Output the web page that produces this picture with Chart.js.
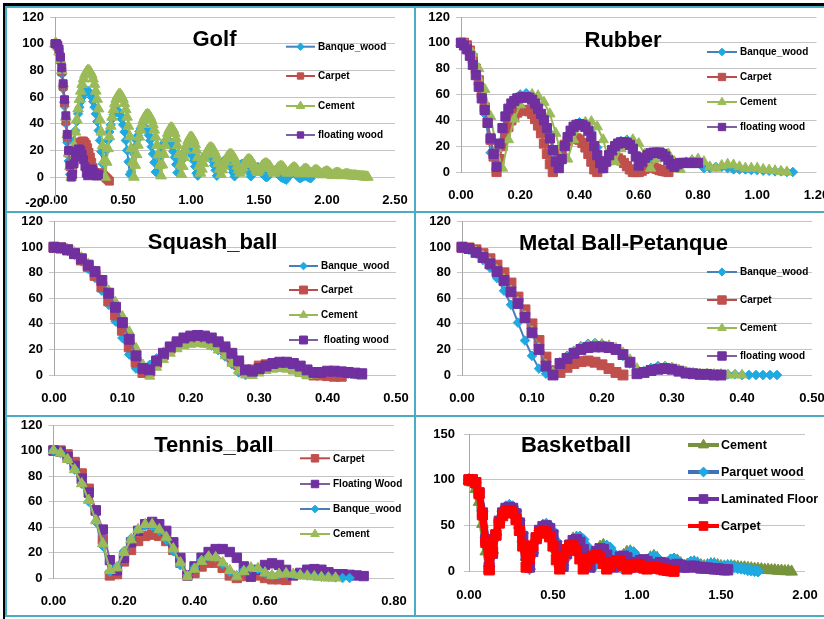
<!DOCTYPE html>
<html>
<head>
<meta charset="utf-8">
<script src="https://cdn.jsdelivr.net/npm/chart.js@4/dist/chart.umd.min.js"></script>
<style>
  html, body { margin: 0; padding: 0; background: #fff; }
  body { width: 824px; height: 619px; position: relative; overflow: hidden; }
  canvas { position: absolute; }
  .rule { position: absolute; z-index: 5; }
</style>
</head>
<body>
<canvas id="golf"   width="406" height="202" style="left:8px;top:9px"></canvas>
<canvas id="rubber" width="408" height="202" style="left:416px;top:9px"></canvas>
<canvas id="squash" width="406" height="202" style="left:8px;top:213px"></canvas>
<canvas id="metal"  width="408" height="202" style="left:416px;top:213px"></canvas>
<canvas id="tennis" width="406" height="198" style="left:8px;top:417px"></canvas>
<canvas id="basket" width="408" height="198" style="left:416px;top:417px"></canvas>

<!-- frame around the six panels -->
<div class="rule" style="left:3px;top:3px;width:821px;height:3px;background:#000"></div>
<div class="rule" style="left:3px;top:3px;width:2px;height:616px;background:#000"></div>
<div class="rule" style="left:5px;top:6px;width:819px;height:2px;background:#4bacc6"></div>
<div class="rule" style="left:5px;top:6px;width:2px;height:611px;background:#4bacc6"></div>
<div class="rule" style="left:414px;top:6px;width:2px;height:611px;background:#4bacc6"></div>
<div class="rule" style="left:5px;top:211px;width:819px;height:2px;background:#4bacc6"></div>
<div class="rule" style="left:5px;top:415px;width:819px;height:2px;background:#4bacc6"></div>
<div class="rule" style="left:5px;top:615px;width:819px;height:2px;background:#4bacc6"></div>

<script>
// ---- Drop height (%) sampled at a fixed time step for every ball / surface ----

// Golf, time step 0.01 s
const golfBanqueWood = [
  100,99,97,92,86,77,66,53,40,26,12,2,
  10,19.1,27.5,34.9,41.6,47.4,52.4,56.6,59.9,62.4,64.1,64.9,64.9,64.1,62.4,59.9,56.6,52.4,47.4,41.6,34.9,27.5,19.1,10,1,
  11.6,20.1,27.5,33.9,39.2,43.5,46.7,48.8,49.9,49.9,48.8,46.7,43.5,39.2,33.9,27.5,20.1,11.6,2,
  3.9,11.1,17.4,22.8,27.5,31.3,34.2,36.3,37.6,38,37.6,36.3,34.2,31.3,27.5,22.8,17.4,11.1,3.9,
  3.4,9.5,14.8,19.2,22.6,25.3,27,27.9,27.9,27,25.3,22.6,19.2,14.8,9.5,3.4,
  2.9,8,12.3,15.8,18.3,20,20.9,20.9,20,18.3,15.8,12.3,8,2.9,
  1,5.2,8.8,11.8,14,15.7,16.7,17,16.7,15.7,14,11.8,8.8,5.2,1,
  3.5,6.5,9,11,12.3,13,13,12.3,11,9,6.5,3.5,0.5,
  3,5.5,7.5,9,9.8,10,9.8,9,7.5,5.5,3,0.5,
  2.5,4.5,6,7,7.5,7.3,6.5,5,3,1,0,0,
  1.5,3,4.2,5,5.2,4.8,4,2.8,1.3,0,-0.5,-1,-1.5,-2,
  -0.5,1,2.2,3,3.2,3,2.2,1,0,-1,
  -0.5,0,0.7,1,0.7,0,-0.5,-1
];
const golfCarpet = [100,100,98,94,88,79,68,56,42,30,18,8,1,6,12,16.5,20,23,25,26.3,27,27,26,24.5,22,18.5,15,11,7,3.5,1,2,3,3.2,3,2,1,0,-1,-2,-3];
const golfCement = [
  100,100,98,94,88,80,70,58,45,32,18,8,0,
  12.3,23.6,33.8,43,51.2,58.4,64.5,69.6,73.7,76.8,78.8,79.9,79.9,78.8,76.8,73.7,69.6,64.5,58.4,51.2,43,33.8,23.6,12.3,0,
  11.2,21.4,30.4,38.2,45,50.6,55.1,58.5,60.7,61.9,61.9,60.7,58.5,55.1,50.6,45,38.2,30.4,21.4,11.2,0,
  8.9,16.9,24,30.1,35.3,39.5,42.8,45.1,46.5,47,46.5,45.1,42.8,39.5,35.3,30.1,24,16.9,8.9,1,
  9.2,17.1,23.7,28.9,32.9,35.5,36.8,36.8,35.5,32.9,28.9,23.7,17.1,9.2,2,
  8,14.7,20.2,24.5,27.6,29.4,30,29.4,27.6,24.5,20.2,14.7,8,3,
  6,10.2,14.1,17.2,19.6,21.1,21.9,21.9,21.1,19.6,17.2,14.1,10.2,6,2,
  5.5,8.3,11.4,13.9,15.6,16.7,17,16.7,15.6,13.9,11.4,8.3,5.5,3,
  5,7,9.5,11,12.3,13,13,12.3,11,9.5,7.5,5,3.5,
  5,6.5,8,9,9.8,10,9.8,9,8,6.5,4.5,3,
  4,5.5,6.8,7.6,8,7.8,7,5.5,4,3,
  3.5,5,6,6.8,7,6.5,5.3,3.8,2.5,
  3.5,4.5,5.5,6,5.8,5,3.8,2.5,
  3,4,4.8,5,4.6,3.8,2.7,1.8,
  2.5,3.3,3.8,4,3.6,2.8,1.8,1.2,
  1.8,2.5,3,3,2.5,1.8,1.2,
  1.2,1.7,2,2,1.7,1.2,1,
  1,1,1,0.8,0.7,0.6,0.5,0.4,0.3,0.2,0.1,0
];
const golfFloatingWood = [100,100,99,96,90,82,70,58,46,32,20,9,0,2,10,15,19,21,21,20,17,13,8,3,1,4,6,6,5,3,1,1,2];

// Rubber, time step 0.02 s (carpet and floating wood 0.01 s)
const rubberBanqueWood = [100,95,85,68,45,15,8,32,46,55,60,61,58,52,43,30,12,8,24,34,38.5,37,31,19,4,8,18,24,25,21,12,3,10,14.5,15,11,4,5,8,9,7,3,3,4,4,3,2,2,2,1.5,1.5,1,1,0.5,0.5,0,0];
const rubberCarpet = [100,100,98,94,88,80,71,61,50,38,25,12,0,10,20,28,35,40,44,46,47.5,48,48,47,45,41,36,30,22,14,6,0,6,12,17,21,24,25.5,26,26,25,22.5,19,14,8,2,0,3,6,8.5,10,11,11,10.5,9,7,4.5,2,0,0,0,1,2.5,3.5,4,3.5,2.5,1.5,1,0.5,0];
const rubberCement = [100,98,92,80,64,43,18,3,25,41,52,58,60,59,54,45,30,10,10,25,34,38.5,39,35,25,8,8,18,23.5,25,22,14,3,10,14.5,14,8,2,6,9,10,8,4,3,5,6,5.5,4,3,3,3,2,1.5,1,0.5,0];
const rubberFloatingWood = [100,98,95,90,83,75,66,57,48,38,26,14,4,22,34,43,49,53,55,57,57.5,58,58,57.5,56,53,49,45,40,34,26,17,8,3,10,20,27,32,35,36.5,37,36.5,35,32,27,20,13,7,3,8,13,17,20,22,23,23,22.5,21,18,12,5,8,11,13,14.5,15,15,15,14,12,9,6,4,6,7,7,7,7,7,7,7];

// Squash ball, time step 0.01 s
const squashBanqueWood = [100,99,97,94,89,83,76,66,55,42,29,16,5,3,8,13,18,21.5,24,25.5,26,26,25,23,19.5,14.5,8.5,2,0,2,4,6,7,7,6,4.5,2.5,1,0.5,1,2,2,1.5,1,0.5];
const squashCarpet = [100,99.5,98,95,90,85,78,69,58,47,35,22,10,2,3,10,16,21,24.5,27,28,28.5,28,26.5,24,20,14,8,3,4,7,8,8.5,8,7,5,3,1,0,0,-0.5,-1,-1];
const squashCement = [100,99.5,98.5,96,92,87,81,74,66,57,46,34,21,8,-1,6,12,17,20.5,23,24,24.5,24,22.5,19.5,15,9,3,0,-0.5,1.5,3.5,4.5,5,4.5,3,1,-0.5,0,1,2,2,1.5,1,0,-1];
const squashFloatingWood = [100,99.5,98,95,91,86,81,74,64,53,41,28,15,5,4,11,17,22,26,29,30.5,31,30.5,29,26,22,17,11,4,3,5,7,9,10,10,9,7,4,2,2,3,3,2.5,2,1.5,1];

// Metal ball (petanque), time step 0.01 s
const metalBanqueWood = [100,98,95,90,84,76,66,55,41,27,15,5,1,4,10,15,19,22.5,24.5,25,24.5,23,20,15,9,2,3,5.5,7,7,6,4,2.5,1.5,1,1,0.5,0.5,0.5,0.5,0,0,0,0,0,0];
const metalCarpet = [100,99.5,98,95,91,86,80,72,61,51,40,27,14,3,2,6,9,10.5,11,10,8,5,2,0];
const metalCement = [100,99,96.5,93,88,82,75,66,57,46,34,21,8,2,8,13,18,21,23,24,24,23,21,17.5,12,5,1,3,5,6,5.5,4,2.5,1.5,1,1,0.5,0.5,0,0,0];
const metalFloatingWood = [100,99,96,92,87,81,74,65,56,45,33,20,7,0,9,13,17,20,21.5,22,22,21.5,20,16,10,1,2,3.5,4.5,5,4.5,3,1.5,1,0.5,0.5,0,0];

// Tennis ball, time step 0.02 s
const tennisCarpet = [100,100,97,91,82,70,53,30,2,3,13,22,29,33,34,33,29,22,12,2,4,9,12,12,8,2,0,1.5,3,2,0,-1,-1,-1.5];
const tennisFloatingWood = [100,99,95,88,78,67,53,38,14,6,15.8,28,37,42.2,44,42.2,37,28,15.8,2,9.1,15.9,20.4,22.7,22.7,20.4,15.9,9.1,1,6.4,10.2,11.5,10.2,6.4,2,4,6.5,7,6.5,4.5,3,3,2.5,2,1.5];
const tennisBanqueWood = [100,98,93,85,74,60,44,25,5,9,21,31,38,41,40.5,37,30,21,10,2,8,14,17,16,11,5,2,6,8,7,4,2,3,3.5,3,2.5,2,1.5,1,1,0.5,0,0];
const tennisCement = [100,98,93,85,74,61,45,27,6,8,20,30,38,42,42,38,32,23,12,1,7,13,16.5,16,12,6,1,5,8,7.5,4,2,3,3.5,3,2,1.5,1,0.5,0,0];

// Basketball, time step 0.02 s
const basketCement = [100,97,90,76,52,22,2,24,43,57,65,69,70,68,62,51,36,16,6,24,38,46,50,50,46,38,25,9,10,23,31,36,37,34,27,16,5,14,22,27,29,27,21,12,5,12,18,21.5,22,19,13,6,7,12,15.5,17,15,10,6,9,12,13,12,9,6,7.5,9.5,10,9,7,6,7,8,8,7,6,5.5,6,6,5.5,5,4.5,4.5,4,3.5,3,3,2.5,2,2,1.5,1.5,1,1,0.5,0.5,0];
const basketParquetWood = [100,100,97,87,66,37,6,20,41,56,66,71,72.5,71,66,56,42,22,3,20,35,45,50,52,50,44,33,18,4,15,26,33,37,38,35,28,17,5,12,21,26,28,26,20,11,5,13,19,22,21,16,8,5,11,15.5,17,15,10,5,9,13,14,12,8,5,8,10.5,11,9,6,5,7,8.5,8,6,5,6,6.5,6,5,4,3.5,3,2,1.5,1,0.5];
const basketLaminatedFloor = [100,100,97,86,64,35,5,20,40,55,64,69,70,69,63,53,38,18,5,22,36,45,49,50,47,40,28,12,6,20,29,34,35,32,24,12,5,15,22,25,24,18,9,5,11,16,17,15,10,5,8,12,13,11,7,5,8,10,9,6,5,7,8,7,5,5,6,6,5,4,4,4,3.5,3,3,2.5,2,2];
const basketCarpet = [100,100,97,85,62,32,2,22,40,53,61,65.5,66.5,64,57,45,28,5,14,28,37,42,44,43,38,28,13,3,16,24,28,28,23,14,3,8,14,17,18,15,9,3,6,10,12,11,7,3,5,7.5,8,6.5,4,3,4,4.5,4,3,2,1.5,1,0.5];

// Axis tick labels of the tennis panel
const tennisTickValues = [0, 0.2, 0.4, 0.6, 0.966];
const tennisTickLabels = ['0.00', '0.20', '0.40', '0.60', '0.80'];

// ---- Styling ----
const FONT = '"Liberation Sans", Arial, Helvetica, sans-serif';
const STYLE = {
  banque:   { line: '#4a7ebb', fill: '#1fa9e1', shape: 'rectRot' },
  carpet:   { line: '#be4b48', fill: '#c0504d', shape: 'rect' },
  cement:   { line: '#98b954', fill: '#9bbb59', shape: 'triangle' },
  floating: { line: '#7d60a0', fill: '#7030a0', shape: 'rect' },
  bCement:  { line: '#77933c', fill: '#77933c', shape: 'triangle' },
  bParquet: { line: '#3f73b8', fill: '#1fa9e1', shape: 'rectRot' },
  bLam:     { line: '#7030a0', fill: '#7030a0', shape: 'rect' },
  bCarpet:  { line: '#ff0000', fill: '#ff0000', shape: 'rect' }
};

const toPoints = (ys, dt) => ys.map((y, i) => ({ x: +(i * dt).toFixed(3), y }));

const panels = [
  {
    id: 'golf', canvas: [8, 9], size: [406, 202], area: [55, 17, 395, 199],
    x: { min: 0, max: 2.5, step: 0.5, atZero: true }, y: { min: -20, max: 120, step: 20 }, xPad: 16, yPad: 6,
    marker: { rect: 5.6, rectRot: 4.6, triangle: 6.2 }, lineW: 2,
    title: 'Golf', titleAt: [214.5, 46],
    legend: { x1: 286, x2: 315, tx: 318, ys: [46.7, 76, 106, 135], font: 10, lw: 2, scale: 0.8 },
    series: [
      { label: 'Banque_wood', ys: golfBanqueWood, dt: 0.01, s: STYLE.banque },
      { label: 'Carpet', ys: golfCarpet, dt: 0.01, s: STYLE.carpet },
      { label: 'Cement', ys: golfCement, dt: 0.01, s: STYLE.cement },
      { label: 'floating wood', ys: golfFloatingWood, dt: 0.01, s: STYLE.floating }
    ]
  },
  {
    id: 'rubber', canvas: [416, 9], size: [408, 202], area: [461, 17, 817, 172],
    x: { min: 0, max: 1.2, step: 0.2 }, y: { min: 0, max: 120, step: 20 }, xPad: 15.4, yPad: 6,
    marker: { rect: 6.5, rectRot: 4.8, triangle: 6 }, lineW: 2,
    title: 'Rubber', titleAt: [623, 46.5],
    legend: { x1: 707, x2: 737, tx: 740, ys: [52, 77, 102, 127], font: 10, lw: 2, scale: 0.8 },
    series: [
      { label: 'Banque_wood', ys: rubberBanqueWood, dt: 0.02, s: STYLE.banque },
      { label: 'Carpet', ys: rubberCarpet, dt: 0.01, s: STYLE.carpet },
      { label: 'Cement', ys: rubberCement, dt: 0.02, s: STYLE.cement },
      { label: 'floating wood', ys: rubberFloatingWood, dt: 0.01, s: STYLE.floating }
    ]
  },
  {
    id: 'squash', canvas: [8, 213], size: [406, 202], area: [54, 221.7, 396, 375],
    x: { min: 0, max: 0.5, step: 0.1 }, y: { min: 0, max: 120, step: 20 }, xPad: 15.7, yPad: 6,
    marker: { rect: 7, rectRot: 4.8, triangle: 5.8 }, lineW: 2,
    title: 'Squash_ball', titleAt: [212.5, 249],
    legend: { x1: 289, x2: 318, tx: 321, ys: [266, 290, 315, 340], font: 10, lw: 2, scale: 0.8 },
    series: [
      { label: 'Banque_wood', ys: squashBanqueWood, dt: 0.01, s: STYLE.banque },
      { label: 'Carpet', ys: squashCarpet, dt: 0.01, s: STYLE.carpet },
      { label: 'Cement', ys: squashCement, dt: 0.01, s: STYLE.cement },
      { label: ' floating wood', ys: squashFloatingWood, dt: 0.01, s: STYLE.floating }
    ]
  },
  {
    id: 'metal', canvas: [416, 213], size: [408, 202], area: [462, 221.7, 812, 375],
    x: { min: 0, max: 0.5, step: 0.1 }, y: { min: 0, max: 120, step: 20 }, xPad: 15.6, yPad: 6,
    marker: { rect: 7, rectRot: 4.8, triangle: 5.8 }, lineW: 2,
    title: 'Metal Ball-Petanque', titleAt: [623.5, 250],
    legend: { x1: 707, x2: 737, tx: 740, ys: [272, 300, 328, 356], font: 10, lw: 2, scale: 0.85 },
    series: [
      { label: 'Banque_wood', ys: metalBanqueWood, dt: 0.01, s: STYLE.banque },
      { label: 'Carpet', ys: metalCarpet, dt: 0.01, s: STYLE.carpet },
      { label: 'Cement', ys: metalCement, dt: 0.01, s: STYLE.cement },
      { label: 'floating wood', ys: metalFloatingWood, dt: 0.01, s: STYLE.floating }
    ]
  },
  {
    id: 'tennis', canvas: [8, 417], size: [406, 198], area: [53.5, 425, 394, 578],
    x: { min: 0, max: 0.966, step: 0.2, values: tennisTickValues, labels: tennisTickLabels },
    y: { min: 0, max: 120, step: 20 }, xPad: 16, yPad: 6,
    marker: { rect: 6.6, rectRot: 4.8, triangle: 6.2 }, lineW: 2,
    title: 'Tennis_ball', titleAt: [214, 451.5],
    legend: { x1: 300, x2: 330, tx: 333, ys: [458.3, 484, 509, 534], font: 10, lw: 2, scale: 0.8 },
    series: [
      { label: 'Carpet', ys: tennisCarpet, dt: 0.02, s: STYLE.carpet },
      { label: 'Floating Wood', ys: tennisFloatingWood, dt: 0.02, s: STYLE.floating },
      { label: 'Banque_wood', ys: tennisBanqueWood, dt: 0.02, s: STYLE.banque },
      { label: 'Cement', ys: tennisCement, dt: 0.02, s: STYLE.cement }
    ]
  },
  {
    id: 'basket', canvas: [416, 417], size: [408, 198], area: [469, 434, 805, 571.7],
    x: { min: 0, max: 2, step: 0.5 }, y: { min: 0, max: 150, step: 50 }, xPad: 15.6, yPad: 9,
    marker: { rect: 7.2, rectRot: 5.8, triangle: 6.8 }, lineW: 7,
    title: 'Basketball', titleAt: [576, 451.5],
    legend: { x1: 688, x2: 719, tx: 721, ys: [445, 472, 499, 526], font: 12.5, lw: 4, scale: 0.85 },
    series: [
      { label: 'Cement', ys: basketCement, dt: 0.02, s: STYLE.bCement },
      { label: 'Parquet wood', ys: basketParquetWood, dt: 0.02, s: STYLE.bParquet },
      { label: 'Laminated Floor', ys: basketLaminatedFloor, dt: 0.02, s: STYLE.bLam },
      { label: 'Carpet', ys: basketCarpet, dt: 0.02, s: STYLE.bCarpet }
    ]
  }
];

function drawMarker(ctx, shape, x, y, r) {
  ctx.beginPath();
  if (shape === 'rect') {
    const h = r * Math.SQRT1_2;
    ctx.rect(x - h, y - h, 2 * h, 2 * h);
  } else if (shape === 'rectRot') {
    ctx.moveTo(x, y - r); ctx.lineTo(x + r, y); ctx.lineTo(x, y + r); ctx.lineTo(x - r, y);
    ctx.closePath();
  } else {
    ctx.moveTo(x, y - r);
    ctx.lineTo(x + r * 0.866, y + r * 0.5);
    ctx.lineTo(x - r * 0.866, y + r * 0.5);
    ctx.closePath();
  }
  ctx.fill();
  ctx.stroke();
}

// Title and in-plot legend for each panel
const panelDecor = {
  id: 'panelDecor',
  afterDraw(chart, args, o) {
    const ctx = chart.ctx;
    const [cx, cy] = o.origin;
    ctx.save();
    ctx.fillStyle = '#000';
    ctx.font = 'bold 22px ' + FONT;
    ctx.textAlign = 'center';
    ctx.textBaseline = 'alphabetic';
    ctx.fillText(o.title, o.titleAt[0] - cx, o.titleAt[1] - cy);

    const L = o.legend;
    o.items.forEach((it, k) => {
      const y = L.ys[k] - cy;
      ctx.strokeStyle = it.s.line;
      ctx.lineWidth = L.lw;
      ctx.beginPath();
      ctx.moveTo(L.x1 - cx, y);
      ctx.lineTo(L.x2 - cx, y);
      ctx.stroke();
      ctx.fillStyle = it.s.fill;
      ctx.strokeStyle = it.s.fill;
      ctx.lineWidth = 1;
      drawMarker(ctx, it.s.shape, (L.x1 + L.x2) / 2 - cx, y, o.marker[it.s.shape] * L.scale);
      ctx.fillStyle = '#000';
      ctx.font = 'bold ' + L.font + 'px ' + FONT;
      ctx.textAlign = 'left';
      ctx.textBaseline = 'middle';
      ctx.fillText(it.label, L.tx - cx, y + 0.5);
    });
    ctx.restore();
  }
};

panels.forEach(p => {
  const [cl, ct] = p.canvas;
  const [cw, ch] = p.size;
  const aL = p.area[0] - cl, aT = p.area[1] - ct, aR = p.area[2] - cl, aB = p.area[3] - ct;
  const n = p.series.length;
  const tickFont = { family: FONT, size: 13, weight: 'bold' };

  const datasets = p.series.map((s, i) => ({
    label: s.label,
    data: toPoints(s.ys, s.dt),
    showLine: true,
    tension: 0,
    borderColor: s.s.line,
    borderWidth: p.lineW,
    borderJoinStyle: 'round',
    pointStyle: s.s.shape,
    pointRadius: p.marker[s.s.shape],
    pointBackgroundColor: s.s.fill,
    pointBorderColor: s.s.fill,
    pointBorderWidth: 1,
    clip: false,
    order: n - i
  }));

  const xOpts = {
    type: 'linear',
    position: p.x.atZero ? { y: 0 } : 'bottom',
    min: p.x.min, max: p.x.max,
    grid: { display: false, drawTicks: false },
    border: { display: false },
    ticks: {
      stepSize: p.x.step,
      autoSkip: false, maxRotation: 0, minRotation: 0,
      color: '#000', font: tickFont, padding: p.xPad,
      callback: (v, i) => p.x.labels ? p.x.labels[i] : Number(v).toFixed(2)
    },
    afterFit: s => { s.height = ch - aB; s.paddingLeft = 0; s.paddingRight = 0; }
  };
  if (p.x.values) {
    xOpts.afterBuildTicks = s => { s.ticks = p.x.values.map(v => ({ value: v })); };
  }

  new Chart(document.getElementById(p.id), {
    type: 'scatter',
    data: { datasets },
    plugins: [panelDecor],
    options: {
      responsive: false,
      animation: false,
      events: [],
      layout: { padding: { left: 0, top: aT, right: cw - aR, bottom: 0 } },
      plugins: {
        legend: { display: false },
        tooltip: { enabled: false },
        panelDecor: {
          origin: [cl, ct], title: p.title, titleAt: p.titleAt,
          legend: p.legend, items: p.series, marker: p.marker
        }
      },
      scales: {
        x: xOpts,
        y: {
          type: 'linear',
          position: 'left',
          min: p.y.min, max: p.y.max,
          grid: {
            color: c => (c.tick && c.tick.value < 0) ? 'rgba(0,0,0,0)' : '#c4c4c4',
            lineWidth: 1, tickLength: 5, drawTicks: true
          },
          border: { display: true, color: '#a8a8a8', width: 1 },
          ticks: {
            stepSize: p.y.step, color: '#000', font: tickFont, padding: p.yPad,
            callback: v => String(v)
          },
          afterFit: s => { s.width = aL; s.paddingTop = 0; s.paddingBottom = 0; }
        }
      }
    }
  });
});
</script>
</body>
</html>
